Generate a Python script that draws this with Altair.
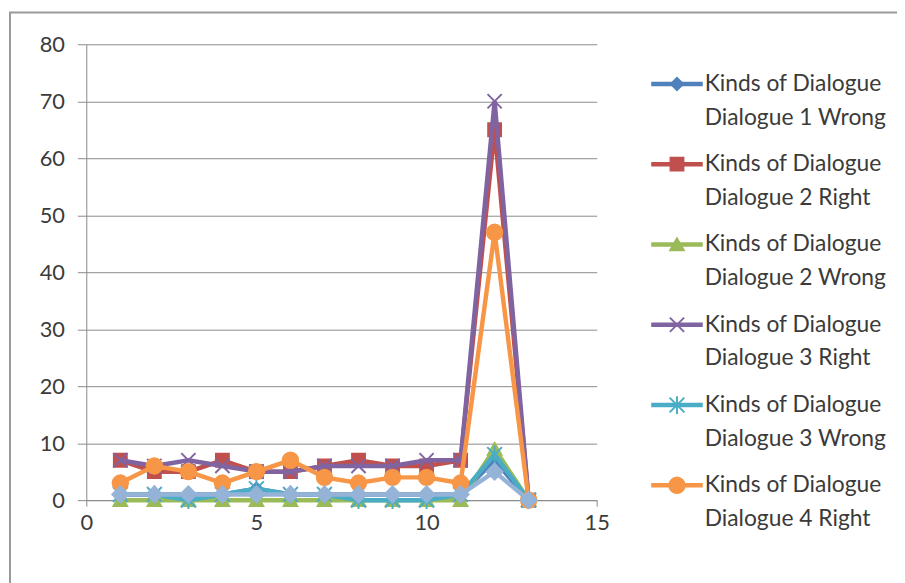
import altair as alt
import pandas as pd

# ---- data ----
x_vals = [1, 2, 3, 4, 5, 6, 7, 8, 9, 10, 11, 12, 13]
series_names = [
    "Kinds of Dialogue\nDialogue 1 Wrong",
    "Kinds of Dialogue\nDialogue 2 Right",
    "Kinds of Dialogue\nDialogue 2 Wrong",
    "Kinds of Dialogue\nDialogue 3 Right",
    "Kinds of Dialogue\nDialogue 3 Wrong",
    "Kinds of Dialogue\nDialogue 4 Right",
    "Kinds of Dialogue\nDialogue 4 Wrong",
]
d1_wrong = [1, 1, 1, 1, 2, 1, 1, 1, 1, 1, 1, 7, 0]
d2_right = [7, 5, 5, 7, 5, 5, 6, 7, 6, 6, 7, 65, 0]
d2_wrong = [0, 0, 0, 0, 0, 0, 0, 0, 0, 0, 0, 9, 0]
d3_right = [7, 6, 7, 6, 5, 5, 6, 6, 6, 7, 7, 70, 0]
d3_wrong = [1, 1, 0, 1, 2, 1, 1, 0, 0, 0, 1, 8, 0]
d4_right = [3, 6, 5, 3, 5, 7, 4, 3, 4, 4, 3, 47, 0]
d4_wrong = [1, 1, 1, 1, 1, 1, 1, 1, 1, 1, 1, 5, 0]
all_values = [d1_wrong, d2_right, d2_wrong, d3_right, d3_wrong, d4_right, d4_wrong]
in_legend = [True, True, True, True, True, True, False]

colors = ["#4F81BD", "#C0504D", "#9BBB59", "#8064A2", "#4BACC6", "#F79646", "#95B3D7"]
X_PATH = "M-1,-1L1,1M-1,1L1,-1"
STAR_PATH = "M-1,-1L1,1M-1,1L1,-1M0,-1.2L0,1.2"
shapes = ["diamond", "square", "triangle-up", X_PATH, STAR_PATH, "circle", "diamond"]
sizes = [150, 260, 240, 240, 220, 270, 1]

x_ticks = [0, 5, 10, 15]
y_ticks = [0, 10, 20, 30, 40, 50, 60, 70, 80]

rows = []
for k, (name, vals) in enumerate(zip(series_names, all_values)):
    for xv, yv in zip(x_vals, vals):
        rows.append({"series": name, "order": k, "x": xv, "y": yv})
df = pd.DataFrame(rows)

legend_df = pd.DataFrame(
    [{"series": n, "idx": i} for i, (n, show) in enumerate(zip(series_names, in_legend)) if show]
)

# ---- layout ----
W, H = 515, 460
FONT = "Lato"
TXT = "#3b3b3b"
GRID = "#8a8a8a"
LW = 4.5

color_scale = alt.Scale(domain=series_names, range=colors)
shape_scale = alt.Scale(domain=series_names, range=shapes)
size_scale = alt.Scale(domain=series_names, range=sizes)

xs = alt.X("x:Q", scale=alt.Scale(domain=[0, 15], nice=False),
           axis=alt.Axis(values=x_ticks, title=None, grid=False, labelFontSize=22,
                         labelFont=FONT, labelColor=TXT, domainColor=GRID, tickColor=GRID,
                         tickSize=6, labelPadding=7, labelFlush=False))
ys = alt.Y("y:Q", scale=alt.Scale(domain=[0, 80], nice=False),
           axis=alt.Axis(values=y_ticks, title=None, grid=True, gridColor=GRID,
                         labelFontSize=22, labelFont=FONT, labelColor=TXT,
                         domainColor=GRID, tickColor=GRID, tickSize=9, labelPadding=13))

border = alt.Chart(pd.DataFrame({"a": [0]})).mark_rect(
    fill=None, stroke="#9a9a9a", strokeWidth=2
).encode(x=alt.value(-77), x2=alt.value(830), y=alt.value(-32), y2=alt.value(552))

# per-series layering so later series sit on top
series_layers = []
for k, name in enumerate(series_names):
    sub = df[df["series"] == name]
    l = alt.Chart(sub).mark_line(strokeWidth=LW).encode(
        x=xs, y=ys, color=alt.Color("series:N", scale=color_scale, legend=None))
    p = alt.Chart(sub).mark_point(filled=True, opacity=1, strokeWidth=2).encode(
        x="x:Q", y="y:Q",
        color=alt.Color("series:N", scale=color_scale, legend=None),
        stroke=alt.Stroke("series:N", scale=color_scale, legend=None),
        shape=alt.Shape("series:N", scale=shape_scale, legend=None),
        size=alt.Size("series:N", scale=size_scale, legend=None),
    )
    series_layers += [l, p]

main = alt.layer(*series_layers)

# ---- legend drawn as its own layer with an independent y scale ----
first_px, step_px = 40, 81
lo = -first_px / step_px
hi = lo + H / step_px
ly = alt.Y("idx:Q", scale=alt.Scale(domain=[lo, hi], reverse=True, nice=False, zero=False),
           axis=None)

leg_line = alt.Chart(legend_df).mark_rule(strokeWidth=LW).encode(
    x=alt.value(570), x2=alt.value(622), y=ly,
    color=alt.Color("series:N", scale=color_scale, legend=None))
leg_pt = alt.Chart(legend_df).mark_point(filled=True, opacity=1, strokeWidth=2).encode(
    x=alt.value(596), y=ly,
    color=alt.Color("series:N", scale=color_scale, legend=None),
    stroke=alt.Stroke("series:N", scale=color_scale, legend=None),
    shape=alt.Shape("series:N", scale=shape_scale, legend=None),
    size=alt.Size("series:N", scale=size_scale, legend=None))
leg_txt = alt.Chart(legend_df).mark_text(
    align="left", baseline="middle", lineBreak="\n", lineHeight=34,
    font=FONT, fontSize=23, color=TXT
).encode(x=alt.value(624), y=ly, text="series:N")

legend = alt.layer(leg_line, leg_pt, leg_txt)

chart = alt.layer(border, main, legend).resolve_scale(y="independent").properties(
    width=W, height=H,
    autosize=alt.AutoSizeParams(type="none"),
    padding={"left": 79, "top": 34, "right": 303, "bottom": 81},
    background="white",
).configure_view(stroke=None)

chart.save("out.html", embed_options={"renderer": "svg", "actions": False})
